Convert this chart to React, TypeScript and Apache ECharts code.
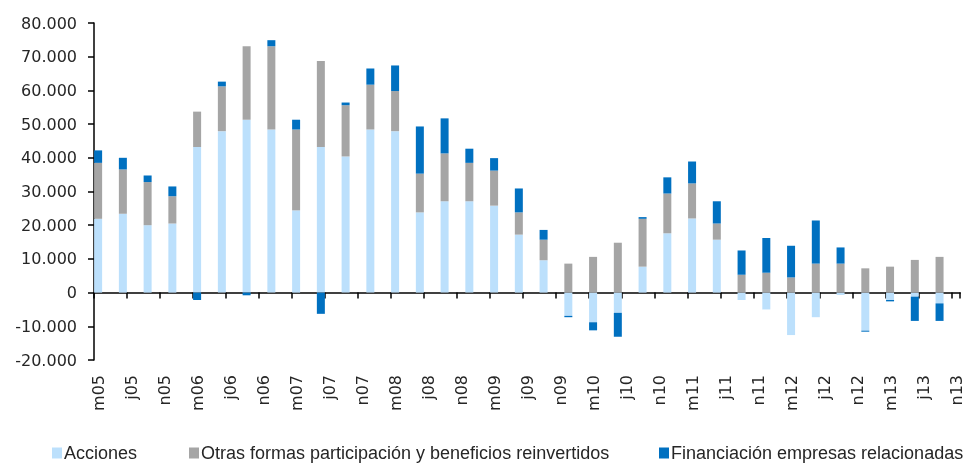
import React, { useEffect, useRef } from "react";
import * as echarts from "echarts";

// Quarterly observations, Mar 2005 .. Sep 2013 (35 quarters)
const quarterLabels = [
  "mar05", "jun05", "sep05", "dic05", "mar06", "jun06", "sep06", "dic06",
  "mar07", "jun07", "sep07", "dic07", "mar08", "jun08", "sep08", "dic08",
  "mar09", "jun09", "sep09", "dic09", "mar10", "jun10", "sep10", "dic10",
  "mar11", "jun11", "sep11", "dic11", "mar12", "jun12", "sep12", "dic12",
  "mar13", "jun13", "sep13",
];

const acciones = [
  21900, 23400, 20000, 20500, 43200, 47900, 51300, 48400,
  24400, 43200, 40400, 48400, 47900, 23800, 27100, 27100,
  25800, 17200, 9600, -6900, -8800, -6000, 7700, 17600,
  22000, 15700, -2200, -5000, -12600, -7300, -700, -11300,
  -2200, -1200, -3200,
];

const otras = [
  16600, 13150, 12800, 8100, 10500, 13300, 21800, 24700,
  24000, 25500, 15200, 13300, 11900, 11500, 14200, 11400,
  10400, 6600, 6100, 8600, 10600, 14800, 14200, 11800,
  10400, 4800, 5300, 5900, 4500, 8600, 8600, 7200,
  7700, 9700, 10600,
];

const financiacion = [
  3700, 3450, 1950, 2900, -2200, 1400, -800, 1800,
  2900, -6300, 800, 4800, 7600, 14000, 10400, 4200,
  3700, 7100, 2900, -400, -2400, -7100, 500, 4800,
  6500, 6600, 7200, 10300, 9400, 12800, 4800, -300,
  -400, -7200, -5200,
];

const seriesNames = [
  "Acciones",
  "Otras formas participación y beneficios reinvertidos",
  "Financiación empresas relacionadas",
];

const monthLetters = ["e", "f", "m", "a", "m", "j", "j", "a", "s", "o", "n", "d"];
const yTicks = { min: -20000, max: 80000, step: 10000 };

// monthly axis Mar 2005 .. Nov 2013
const months: { key: string; label: string }[] = [];
for (let y = 2005; y <= 2013; y++) {
  for (let m = 0; m < 12; m++) {
    if (y === 2005 && m < 2) continue;
    if (y === 2013 && m > 10) continue;
    const yy = String(y % 100).padStart(2, "0");
    months.push({ key: `${y}-${m + 1}`, label: monthLetters[m] + yy });
  }
}
const categoryKeys = months.map((d) => d.key);
const labelOf: Record<string, string> = {};
months.forEach((d) => (labelOf[d.key] = d.label));

function toMonthly(vals: number[]) {
  const out: (number | null)[] = categoryKeys.map(() => null);
  vals.forEach((v, i) => {
    out[i * 3] = v;
  });
  return out;
}

function fmt(v: number) {
  const s = Math.abs(v).toString().replace(/\B(?=(\d{3})+(?!\d))/g, ".");
  return (v < 0 ? "-" : "") + s;
}

const colors = ["#BCE0FC", "#A5A5A5", "#0070C0"];

export default function App() {
  const ref = useRef<HTMLDivElement>(null);
  useEffect(() => {
    if (!ref.current) return;
    const chart = echarts.init(ref.current, null, { renderer: "svg" });
    const labelFont = "'DejaVu Sans', sans-serif";
    const legendBase = {
      top: 444,
      padding: 0,
      itemWidth: 10,
      itemHeight: 11,
      icon: "rect",
      selectedMode: false,
      textStyle: {
        fontFamily: "'Liberation Sans', sans-serif",
        fontSize: 18,
        color: "#262626",
        padding: [0, 0, 0, -3],
      },
    };
    chart.setOption({
      animation: false,
      color: colors,
      grid: { left: 94, top: 23, width: 877, height: 337 },
      legend: [
        { ...legendBase, left: 52, data: [seriesNames[0]] },
        { ...legendBase, left: 189, data: [seriesNames[1]] },
        { ...legendBase, left: 659, data: [seriesNames[2]] },
      ],
      xAxis: [
        {
          type: "category",
          data: categoryKeys,
          position: "bottom",
          boundaryGap: true,
          axisLine: { show: true, onZero: true, lineStyle: { color: "#000", width: 1.5 } },
          axisTick: { show: true, interval: 3, length: 6, lineStyle: { color: "#000", width: 1.5 } },
          axisLabel: { show: false },
          splitLine: { show: false },
        },
        {
          type: "category",
          data: categoryKeys,
          position: "bottom",
          boundaryGap: true,
          axisLine: { show: false, onZero: false },
          axisTick: { show: false },
          axisLabel: {
            show: true,
            interval: 3,
            rotate: 90,
            margin: 15,
            fontSize: 16,
            fontFamily: labelFont,
            color: "#262626",
            formatter: (v: string) => labelOf[v],
          },
          splitLine: { show: false },
        },
      ],
      yAxis: {
        type: "value",
        min: yTicks.min,
        max: yTicks.max,
        interval: yTicks.step,
        axisLine: { show: true, lineStyle: { color: "#000", width: 1.5 } },
        axisTick: { show: true, length: 6, lineStyle: { color: "#000", width: 1.5 } },
        splitLine: { show: false },
        axisLabel: {
          margin: 17,
          fontSize: 16,
          fontFamily: labelFont,
          color: "#262626",
          formatter: (v: number) => fmt(v),
        },
      },
      series: [acciones, otras, financiacion].map((vals, i) => ({
        name: seriesNames[i],
        type: "bar",
        stack: "total",
        xAxisIndex: 0,
        yAxisIndex: 0,
        barWidth: 8,
        itemStyle: { color: colors[i] },
        data: toMonthly(vals),
      })),
    });
    return () => chart.dispose();
  }, []);
  return (
    <div
      ref={ref}
      style={{ position: "fixed", left: 0, top: 0, width: 964, height: 464 }}
    />
  );
}
